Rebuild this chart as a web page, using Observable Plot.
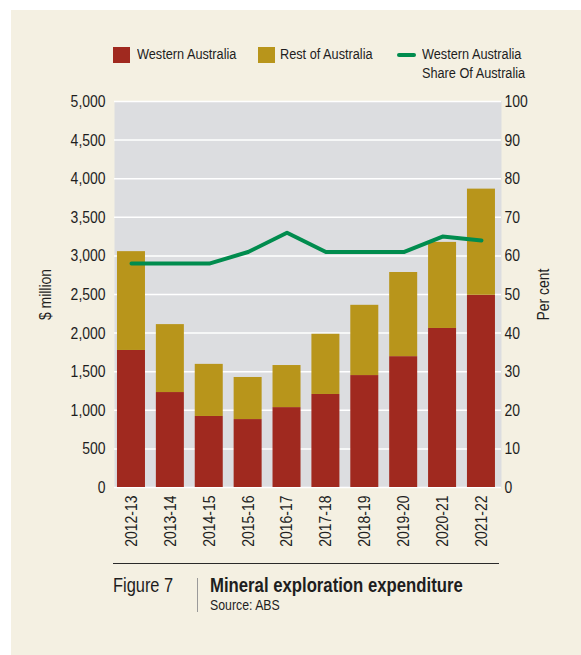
<!DOCTYPE html>
<html>
<head>
<meta charset="utf-8">
<script src="https://cdn.jsdelivr.net/npm/d3@7"></script>
<script src="https://cdn.jsdelivr.net/npm/@observablehq/plot@0.6"></script>
<style>
  html, body { margin: 0; padding: 0; background: #ffffff; }
  body { width: 581px; height: 655px; position: relative; overflow: hidden;
         font-family: "Liberation Sans", Arial, sans-serif; color: #1e1e1e; }
  #panel { position: absolute; left: 11px; top: 10px; right: 0; bottom: 0; background: #f4f0e2; }
  .abs { position: absolute; white-space: nowrap; }
  .nar { transform: scaleX(0.82); transform-origin: 0 0; }
  .leg { font-size: 15.5px; line-height: 15.5px; }
  .sw { position: absolute; width: 17px; height: 16px; }
  #chart { position: absolute; left: 0; top: 88px; }
</style>
</head>
<body>
<div id="panel"></div>
<div class="sw" style="left:113px; top:47px; background:#a0291f"></div>
<div class="abs leg nar" style="left:137px; top:46px">Western Australia</div>
<div class="sw" style="left:258px; top:47px; background:#b8951b"></div>
<div class="abs leg nar" style="left:280px; top:46px">Rest of Australia</div>
<div class="abs" style="left:397px; top:53px; width:19px; height:4px; border-radius:2px; background:#008c4e"></div>
<div class="abs leg nar" style="left:422px; top:46px">Western Australia</div>
<div class="abs leg nar" style="left:422px; top:65px">Share Of Australia</div>
<div id="chart"></div>
<div class="abs" style="left:113px; top:563px; width:386px; height:1px; background:#2a2a2a"></div>
<div class="abs nar" style="left:113px; top:575px; font-size:20px; line-height:20px">Figure 7</div>
<div class="abs" style="left:197px; top:578px; width:1px; height:34px; background:#9a9a9a"></div>
<div class="abs nar" style="left:210px; top:575px; font-size:20.4px; line-height:20px; font-weight:bold">Mineral exploration expenditure</div>
<div class="abs nar" style="left:210px; top:597px; font-size:15px; line-height:15px">Source: ABS</div>
<script>
const years = ["2012-13","2013-14","2014-15","2015-16","2016-17","2017-18","2018-19","2019-20","2020-21","2021-22"];
const waSpend = [1775, 1230, 920, 880, 1035, 1205, 1450, 1695, 2060, 2490];
const restSpend = [1280, 880, 675, 545, 545, 780, 910, 1090, 1115, 1375];
const waShare = [58, 58, 58, 61, 66, 61, 61, 61, 65, 64];
const leftTicks = [0, 500, 1000, 1500, 2000, 2500, 3000, 3500, 4000, 4500, 5000];
const rightTicks = [0, 10, 20, 30, 40, 50, 60, 70, 80, 90, 100];

const seriesNames = ["Western Australia", "Rest of Australia"];
const seriesColors = ["#a0291f", "#b8951b"];
const bars = [];
years.forEach((y, i) => {
  bars.push({year: y, series: seriesNames[0], value: waSpend[i]});
  bars.push({year: y, series: seriesNames[1], value: restSpend[i]});
});
const share = years.map((y, i) => ({year: y, share: waShare[i]}));
// right axis: 100 per cent aligned with $5,000 million
const k = 5000 / 100;

const chart = Plot.plot({
  width: 581,
  height: 469,
  marginTop: 13,
  marginBottom: 70,
  marginLeft: 114,
  marginRight: 80,
  style: {
    fontFamily: '"Liberation Sans", Arial, sans-serif',
    fontSize: "17px",
    background: "transparent",
    color: "#1e1e1e"
  },
  x: {domain: years, paddingInner: 0.28, paddingOuter: 0.116, align: 0.33, round: false},
  y: {domain: [0, 5000]},
  color: {domain: seriesNames, range: seriesColors},
  marks: [
    Plot.frame({fill: "#dcdde0", stroke: null}),
    Plot.gridY(leftTicks, {stroke: "#ffffff", strokeOpacity: 1, strokeWidth: 1.5}),
    Plot.barY(bars, {x: "year", y: "value", fill: "series", order: seriesNames}),
    Plot.line(share, {x: "year", y: d => d.share * k, stroke: "#008c4e", strokeWidth: 4, strokeLinejoin: "round", strokeLinecap: "round"}),
    Plot.axisX({tickRotate: -90, tickSize: 0, tickPadding: 8, label: null}),
    Plot.axisY(leftTicks, {anchor: "left", tickFormat: d3.format(","), tickSize: 0, tickPadding: 9,
      label: "$ million", labelAnchor: "center", labelArrow: "none", labelOffset: 76}),
    Plot.axisY(rightTicks.map(d => d * k), {anchor: "right", tickFormat: d => d / k, tickSize: 0, tickPadding: 3,
      label: "Per cent", labelAnchor: "center", labelArrow: "none", labelOffset: 47})
  ]
});
document.getElementById("chart").appendChild(chart);
// condense the SVG text to imitate the narrow typeface of the original
chart.querySelectorAll("text").forEach(t => {
  const len = t.getComputedTextLength();
  if (len > 0) {
    t.setAttribute("textLength", (len * 0.82).toFixed(2));
    t.setAttribute("lengthAdjust", "spacingAndGlyphs");
  }
});
</script>
</body>
</html>
